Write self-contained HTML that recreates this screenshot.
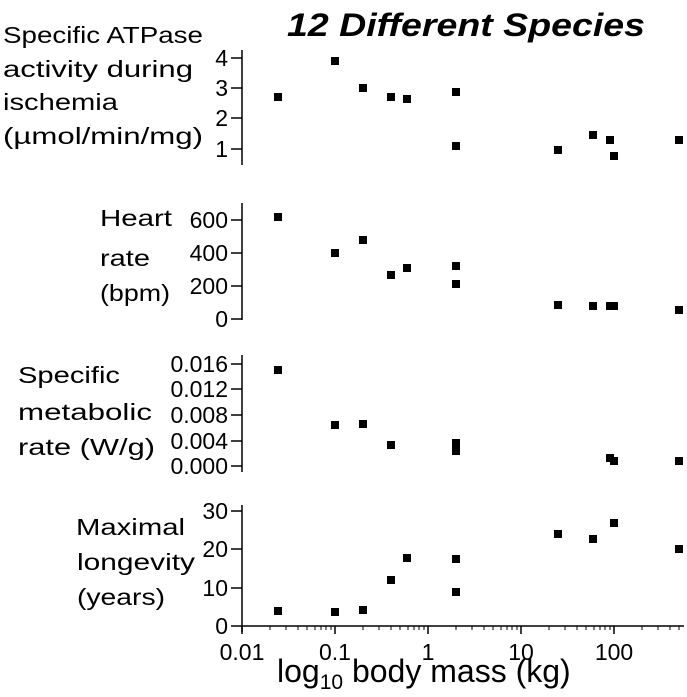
<!DOCTYPE html>
<html><head><style>body{margin:0;background:#fff}svg{display:block}</style></head>
<body>
<svg width="687" height="697" xmlns="http://www.w3.org/2000/svg" font-family="Liberation Sans, sans-serif">
<rect width="687" height="697" fill="#fff"/>
<text x="287" y="36" font-size="32" font-weight="bold" font-style="italic" textLength="358" lengthAdjust="spacingAndGlyphs">12 Different Species</text>
<g font-size="23" fill="#000">
<text x="3" y="43" textLength="200" lengthAdjust="spacingAndGlyphs">Specific ATPase</text>
<text x="3" y="77" textLength="190" lengthAdjust="spacingAndGlyphs">activity during</text>
<text x="3" y="110" textLength="115" lengthAdjust="spacingAndGlyphs">ischemia</text>
<text x="3" y="144" textLength="200" lengthAdjust="spacingAndGlyphs">(µmol/min/mg)</text>
<text x="100" y="226" textLength="72" lengthAdjust="spacingAndGlyphs">Heart</text>
<text x="100" y="266" textLength="50" lengthAdjust="spacingAndGlyphs">rate</text>
<text x="100" y="301" textLength="70" lengthAdjust="spacingAndGlyphs">(bpm)</text>
<text x="18" y="383" textLength="102" lengthAdjust="spacingAndGlyphs">Specific</text>
<text x="18" y="420" textLength="134" lengthAdjust="spacingAndGlyphs">metabolic</text>
<text x="18" y="455" textLength="137" lengthAdjust="spacingAndGlyphs">rate (W/g)</text>
<text x="76" y="535" textLength="109" lengthAdjust="spacingAndGlyphs">Maximal</text>
<text x="77" y="570" textLength="118" lengthAdjust="spacingAndGlyphs">longevity</text>
<text x="77" y="605" textLength="88" lengthAdjust="spacingAndGlyphs">(years)</text>
</g>
<g stroke="#000" stroke-width="1.5" fill="none">
<line x1="242" y1="50" x2="242" y2="165"/>
<line x1="231" y1="58" x2="242" y2="58"/><line x1="231" y1="88" x2="242" y2="88"/><line x1="231" y1="118" x2="242" y2="118"/><line x1="231" y1="149" x2="242" y2="149"/>
<line x1="242" y1="203" x2="242" y2="320"/>
<line x1="231" y1="220" x2="242" y2="220"/><line x1="231" y1="253" x2="242" y2="253"/><line x1="231" y1="286" x2="242" y2="286"/><line x1="231" y1="319" x2="242" y2="319"/>
<line x1="242" y1="355" x2="242" y2="472"/>
<line x1="231" y1="364" x2="242" y2="364"/><line x1="231" y1="389" x2="242" y2="389"/><line x1="231" y1="415" x2="242" y2="415"/><line x1="231" y1="441" x2="242" y2="441"/><line x1="231" y1="466" x2="242" y2="466"/>
<line x1="242" y1="505" x2="242" y2="632"/>
<line x1="231" y1="511" x2="242" y2="511"/><line x1="231" y1="549" x2="242" y2="549"/><line x1="231" y1="588" x2="242" y2="588"/><line x1="231" y1="626" x2="242" y2="626"/>
<line x1="242" y1="626" x2="684" y2="626"/>
<line x1="242" y1="626" x2="242" y2="634"/><line x1="335" y1="626" x2="335" y2="634"/><line x1="428" y1="626" x2="428" y2="634"/><line x1="521" y1="626" x2="521" y2="634"/><line x1="614" y1="626" x2="614" y2="634"/>
</g>
<g stroke="#000" stroke-width="1">
<path d="M270 626v4M286 626v4M298 626v4M307 626v4M315 626v4M321 626v4M326 626v4M331 626v4
M363 626v4M379 626v4M391 626v4M400 626v4M408 626v4M414 626v4M419 626v4M424 626v4
M456 626v4M472 626v4M484 626v4M493 626v4M501 626v4M507 626v4M512 626v4M517 626v4
M549 626v4M565 626v4M577 626v4M586 626v4M594 626v4M600 626v4M605 626v4M610 626v4
M642 626v4M658 626v4M670 626v4M679 626v4"/>
</g>
<g font-size="23" text-anchor="end">
<text x="228" y="66">4</text><text x="228" y="96">3</text><text x="228" y="126">2</text><text x="228" y="157">1</text>
<text x="228" y="228">600</text><text x="228" y="261">400</text><text x="228" y="294">200</text><text x="228" y="327">0</text>
<text x="228" y="372">0.016</text><text x="228" y="397">0.012</text><text x="228" y="423">0.008</text><text x="228" y="449">0.004</text><text x="228" y="474">0.000</text>
<text x="228" y="519">30</text><text x="228" y="557">20</text><text x="228" y="596">10</text><text x="228" y="634">0</text>
</g>
<g font-size="23" text-anchor="middle">
<text x="242" y="660">0.01</text><text x="335" y="660">0.1</text><text x="428" y="660">1</text><text x="521" y="660">10</text><text x="614" y="660">100</text>
</g>
<text x="277" y="682" font-size="32">log<tspan font-size="21" dy="7">10</tspan><tspan dy="-7"> body mass (kg)</tspan></text>
<g fill="#000">
<rect x="274" y="93" width="8" height="8"/><rect x="331" y="57" width="8" height="8"/><rect x="359" y="84" width="8" height="8"/><rect x="387" y="93" width="8" height="8"/><rect x="403" y="95" width="8" height="8"/><rect x="452" y="88" width="8" height="8"/><rect x="452" y="142" width="8" height="8"/><rect x="554" y="146" width="8" height="8"/><rect x="589" y="131" width="8" height="8"/><rect x="606" y="136" width="8" height="8"/><rect x="610" y="152" width="8" height="8"/><rect x="675" y="136" width="8" height="8"/>
<rect x="274" y="213" width="8" height="8"/><rect x="331" y="249" width="8" height="8"/><rect x="359" y="236" width="8" height="8"/><rect x="387" y="271" width="8" height="8"/><rect x="403" y="264" width="8" height="8"/><rect x="452" y="262" width="8" height="8"/><rect x="452" y="280" width="8" height="8"/><rect x="554" y="301" width="8" height="8"/><rect x="589" y="302" width="8" height="8"/><rect x="606" y="302" width="8" height="8"/><rect x="610" y="302" width="8" height="8"/><rect x="675" y="306" width="8" height="8"/>
<rect x="274" y="366" width="8" height="8"/><rect x="331" y="421" width="8" height="8"/><rect x="359" y="420" width="8" height="8"/><rect x="387" y="441" width="8" height="8"/><rect x="452" y="439" width="8" height="8"/><rect x="452" y="447" width="8" height="8"/><rect x="606" y="454" width="8" height="8"/><rect x="610" y="457" width="8" height="8"/><rect x="675" y="457" width="8" height="8"/>
<rect x="274" y="607" width="8" height="8"/><rect x="331" y="608" width="8" height="8"/><rect x="359" y="606" width="8" height="8"/><rect x="387" y="576" width="8" height="8"/><rect x="403" y="554" width="8" height="8"/><rect x="452" y="555" width="8" height="8"/><rect x="452" y="588" width="8" height="8"/><rect x="554" y="530" width="8" height="8"/><rect x="589" y="535" width="8" height="8"/><rect x="610" y="519" width="8" height="8"/><rect x="675" y="545" width="8" height="8"/>
</g>
</svg>
</body></html>
